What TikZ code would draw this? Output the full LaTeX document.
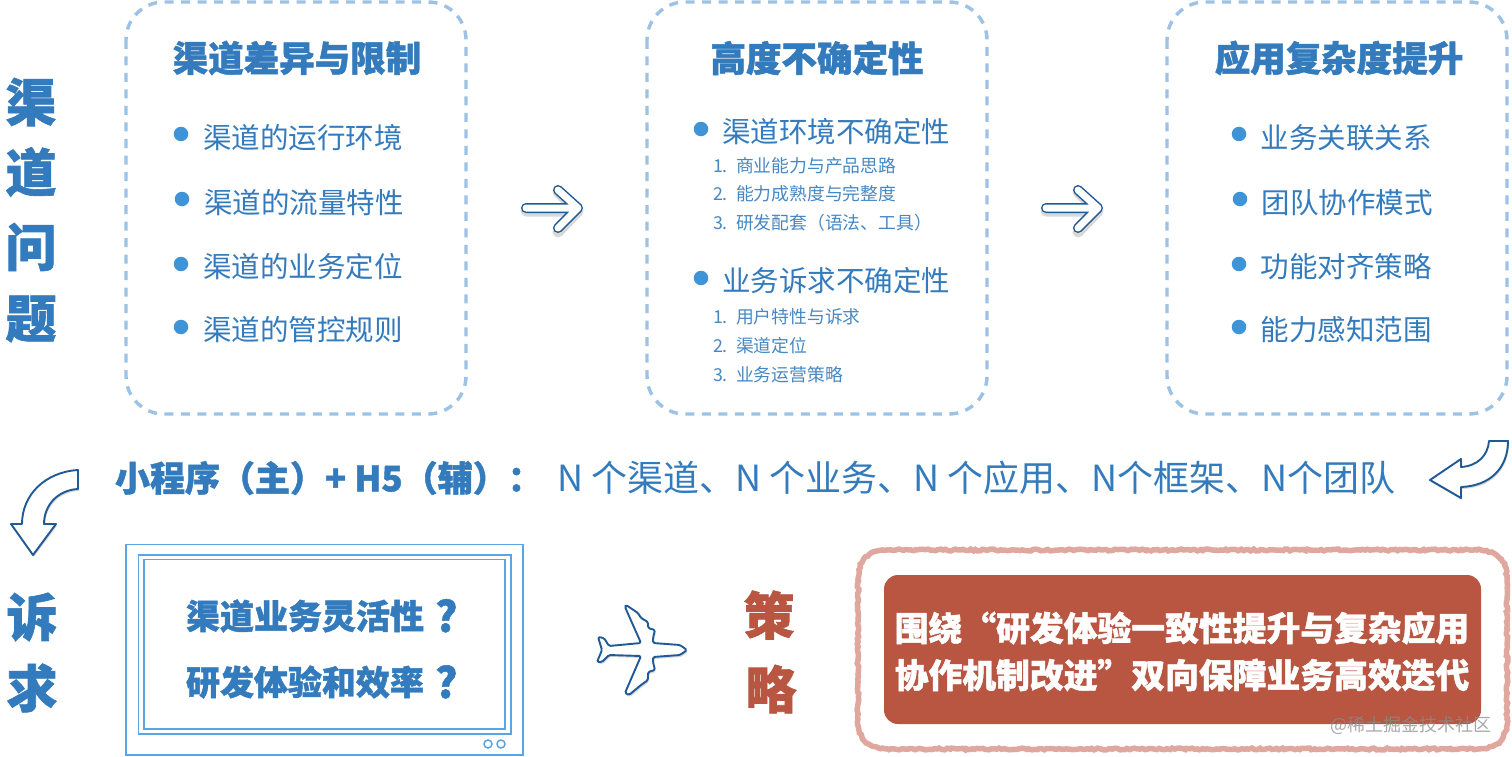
\documentclass[tikz,border=0pt]{standalone}
\usepackage{fontspec}
\setmainfont{Noto Sans CJK SC}[BoldFeatures={FakeBold=1.3}]
\usetikzlibrary{decorations.pathmorphing}
\definecolor{tblue}{HTML}{337BBC}
\definecolor{bullet}{HTML}{3F94D8}
\definecolor{dashblue}{HTML}{9CC3E6}
\definecolor{monblue}{HTML}{5AA5E6}
\definecolor{arrowblue}{HTML}{1F5A96}
\definecolor{tred}{HTML}{B85642}
\definecolor{pinkline}{HTML}{DFA79E}
\newcommand{\fs}[1]{\fontsize{#1}{#1}\selectfont}
\newcommand{\bigq}{\hspace{11pt}\smash{\raisebox{-3pt}{\fs{42}?}}}
\tikzset{
  x=1pt,y=-1pt,
  txt/.style={inner sep=0pt,outer sep=0pt,text=tblue},
  vhead/.style={txt,font=\fs{51}\bfseries},
  vred/.style={vhead,text=tred},
  heading/.style={txt,font=\fs{35.5}\bfseries},
  item/.style={txt,anchor=west,font=\fs{28.5}},
  subitem/.style={txt,anchor=west,font=\fs{17.8},text=tblue!90},
  dot/.style={circle,fill=bullet,minimum size=14.5pt,inner sep=0pt},
  dashbox/.style={draw=dashblue,line width=3.4pt,dash pattern=on 9pt off 7.5pt,rounded corners=38pt,fill=white},
  mon/.style={draw=monblue,line width=1.6pt,fill=none},
  boxq/.style={txt,anchor=west,font=\fs{34}\bfseries},
  redt/.style={txt,anchor=center,text=white,font=\fs{33.8}\bfseries},
  sketch/.style={draw=pinkline,line width=5.5pt,decorate,decoration={random steps,segment length=2.5pt,amplitude=0.9pt}},
  shad/.style={draw=black!25,line width=11pt,line cap=round,line join=round},
  arrout/.style={draw=arrowblue,line width=10pt,line cap=round,line join=round},
  arrin/.style={draw=white,line width=7pt,line cap=round,line join=round},
  barrow/.style={draw=arrowblue,line width=1.9pt,fill=white,line join=round},
  bshadow/.style={fill=black!30,opacity=.5,line join=round},
}
\begin{document}
\begin{tikzpicture}
\pgfmathsetseed{7}
\useasboundingbox (0,0) rectangle (1512,757);
\fill[white] (0,0) rectangle (1512,757);
% dashed panels
\draw[dashbox] (126,2) rectangle (466,414);
\draw[dashbox] (647,2) rectangle (987,414);
\draw[dashbox] (1167,2) rectangle (1507,414);
% left vertical title
\node[vhead] (q1) at (31,102) {渠};
\node[vhead] (q2) at (31,172) {道};
\node[vhead] (q3) at (31,247) {问};
\node[vhead] (q4) at (31,319) {题};
\node[vhead] (s1) at (32,617) {诉};
\node[vhead] (s2) at (32,688) {求};
\node[vred] (c1) at (769,615) {策};
\node[vred] (c2) at (771,689) {略};
% panel 1
\node[heading] (h1) at (297,58) {渠道差异与限制};
\node[dot] (d11) at (181,134) {};
\node[dot] (d12) at (182,199) {};
\node[dot] (d13) at (181,264) {};
\node[dot] (d14) at (181,327) {};
\node[item] (i11) at (203,138) {渠道的运行环境};
\node[item] (i12) at (204,203) {渠道的流量特性};
\node[item] (i13) at (203,267) {渠道的业务定位};
\node[item] (i14) at (203,330) {渠道的管控规则};
% panel 2
\node[heading] (h2) at (817,58) {高度不确定性};
\node[dot] (d21) at (701,129) {};
\node[dot] (d22) at (701,278) {};
\node[item] (i21) at (722,132) {渠道环境不确定性};
\node[item] (i22) at (722,281) {业务诉求不确定性};
\node[subitem] (n1) at (713,166) {1.};
\node[subitem] (n2) at (713,194) {2.};
\node[subitem] (n3) at (713,223) {3.};
\node[subitem] (n4) at (713,317) {1.};
\node[subitem] (n5) at (713,346) {2.};
\node[subitem] (n6) at (713,375) {3.};
\node[subitem] (t1) at (736,166) {商业能力与产品思路};
\node[subitem] (t2) at (736,194) {能力成熟度与完整度};
\node[subitem] (t3) at (736,223) {研发配套（语法、工具）};
\node[subitem] (t4) at (736,317) {用户特性与诉求};
\node[subitem] (t5) at (736,346) {渠道定位};
\node[subitem] (t6) at (736,375) {业务运营策略};
% panel 3
\node[heading] (h3) at (1339,58) {应用复杂度提升};
\node[dot] (d31) at (1239,134) {};
\node[dot] (d32) at (1240,199) {};
\node[dot] (d33) at (1239,264) {};
\node[dot] (d34) at (1239,327) {};
\node[item] (i31) at (1260.5,138) {业务关联关系};
\node[item] (i32) at (1261.5,203) {团队协作模式};
\node[item] (i33) at (1260.5,267) {功能对齐策略};
\node[item] (i34) at (1260.5,330) {能力感知范围};
% line arrows
\foreach \dx in {0,520}{
  \draw[shad,opacity=.6] (526+\dx,211) -- (578+\dx,211) (558+\dx,192) -- (578+\dx,211) -- (558+\dx,232);
  \draw[arrout] (526+\dx,208) -- (578+\dx,208) (558+\dx,190) -- (578+\dx,208) -- (558+\dx,228);
  \draw[arrin] (526+\dx,208) -- (578+\dx,208) (558+\dx,190) -- (578+\dx,208) -- (558+\dx,228);
}
% middle line
\node[txt,anchor=west,font=\fs{35}\bfseries] (m1) at (115,478) {小程序（主）+ H5（辅）：};
\node[txt,anchor=west,font=\fs{36}] (m2) at (557,478) {N 个渠道、N 个业务、N 个应用、N个框架、N个团队};
% bent arrows
\fill[bshadow] (1509,443) -- (1490,443) .. controls (1489,457) and (1479,468) .. (1462,469) -- (1462,461) -- (1431,482) -- (1462,500) -- (1462,489) .. controls (1491,488) and (1509,470) .. (1509,443) -- cycle;
\draw[barrow] (1508,441) -- (1489,441) .. controls (1488,455) and (1478,466) .. (1461,467) -- (1461,459) -- (1430,480) -- (1461,498) -- (1461,487) .. controls (1490,486) and (1508,468) .. (1508,441) -- cycle;
\fill[bshadow] (79,472) .. controls (46,474) and (23,497) .. (23,526) -- (12,526) -- (34,557) -- (57,526) -- (45,526) .. controls (45,507) and (59,492) .. (79,491) -- cycle;
\draw[barrow] (78,470) .. controls (45,472) and (22,495) .. (22,524) -- (11,524) -- (33,555) -- (56,524) -- (44,524) .. controls (44,505) and (58,490) .. (78,489) -- cycle;
% monitor
\draw[mon] (126,544.5) rectangle (523,755);
\draw[mon] (138.5,555) rectangle (511,734);
\draw[mon] (144,559.5) rectangle (505,729);
\node[draw=monblue,line width=1.5pt,circle,minimum size=8pt,inner sep=0pt] (b1) at (488,744) {};
\node[draw=monblue,line width=1.5pt,circle,minimum size=8pt,inner sep=0pt] (b2) at (501,744) {};
\node[boxq] (q5) at (186,616) {渠道业务灵活性\bigq};
\node[boxq] (q6) at (186,682) {研发体验和效率\bigq};
% plane
\fill[bshadow,rounded corners=1.5pt,shift={(1,2)}] (687,650) -- (680,645) -- (653,643) -- (653,638) -- (655,630) -- (648,628) -- (648,622) -- (641,618) -- (638,613) -- (626,605) -- (625,607) -- (641,643) -- (609,646) -- (604,638) -- (598,637) -- (602,650) -- (597,662) -- (602,662) -- (609,655) -- (641,656) -- (625,693) -- (629,695) -- (641,685) -- (648,680) -- (648,672) -- (655,670) -- (653,662) -- (653,657) -- (680,655) -- cycle;
\draw[barrow,rounded corners=1.5pt] (687,650) -- (680,645) -- (653,643) -- (653,638) -- (655,630) -- (648,628) -- (648,622) -- (641,618) -- (638,613) -- (626,605) -- (625,607) -- (641,643) -- (609,646) -- (604,638) -- (598,637) -- (602,650) -- (597,662) -- (602,662) -- (609,655) -- (641,656) -- (625,693) -- (629,695) -- (641,685) -- (648,680) -- (648,672) -- (655,670) -- (653,662) -- (653,657) -- (680,655) -- cycle;
% strategy box
\draw[sketch] (888,550) -- (1477,550) .. controls (1497,550) and (1507,560) .. (1507,580) -- (1507,719) .. controls (1507,739) and (1497,749) .. (1477,749) -- (888,749) .. controls (868,749) and (858,739) .. (858,719) -- (858,580) .. controls (858,560) and (868,550) .. (888,550) -- cycle;
\fill[tred,rounded corners=14pt] (884,575) rectangle (1481,724);
\node[redt] (r1) at (1182,628) {围绕“研发体验一致性提升与复杂应用};
\node[redt] (r2) at (1182,675) {协作机制改进”双向保障业务高效迭代};
\node[txt,anchor=west,font=\fs{18},text=black!45,opacity=.75] (wm) at (1330,725) {@稀土掘金技术社区};
\end{tikzpicture}
\end{document}
